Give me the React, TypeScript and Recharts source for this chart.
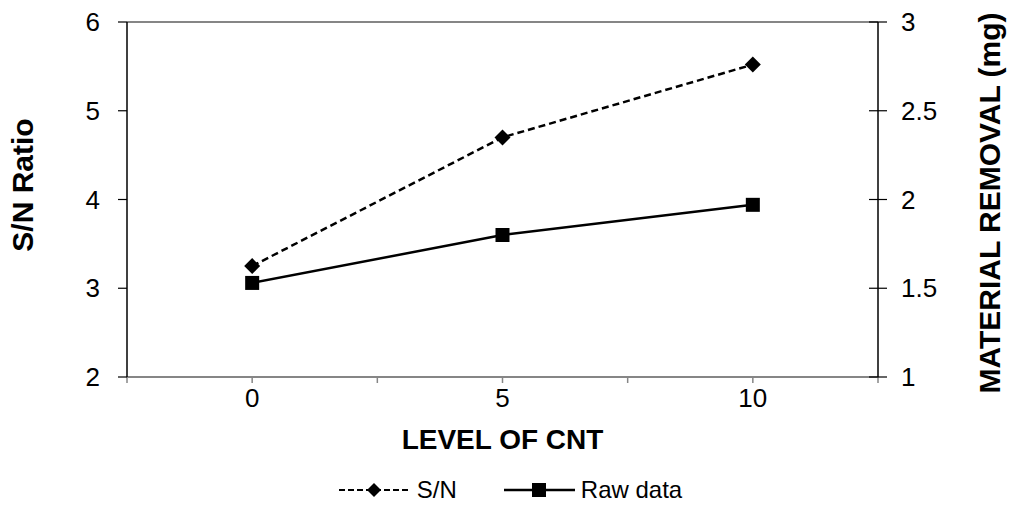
import React from 'react';
import { LineChart, Line, XAxis, YAxis, ReferenceLine, Legend } from 'recharts';

const levels = [0, 5, 10];
const snRatio = [3.25, 4.7, 5.52];
const rawData = [1.53, 1.8, 1.97];
const xTicks = [-2.5, 0, 2.5, 5, 7.5, 10, 12.5];
const leftTicks = [2, 3, 4, 5, 6];
const rightTicks = [1, 1.5, 2, 2.5, 3];

const data = levels.map((level, i) => ({ level, sn: snRatio[i], raw: rawData[i] }));

const font = '"Liberation Sans", Arial, sans-serif';
const gray = '#868686';
const tickFont = 26;

const Diamond = (props: any) => {
  const { cx, cy, index } = props;
  if (cx == null || cy == null) return <g key={`d-${index}`} />;
  return (
    <path
      key={`d-${index}`}
      d={`M${cx},${cy - 8}L${cx + 8},${cy}L${cx},${cy + 8}L${cx - 8},${cy}Z`}
      fill="#000"
    />
  );
};

const Square = (props: any) => {
  const { cx, cy, index } = props;
  if (cx == null || cy == null) return <g key={`s-${index}`} />;
  return <rect key={`s-${index}`} x={cx - 7} y={cy - 7} width={14} height={14} fill="#000" />;
};

// right axis ticks cross the axis line, recharts only draws the outer half
const RightTick = (props: any) => {
  const { x, y, payload } = props;
  const axisX = x - 9 - 14;
  return (
    <g>
      <line x1={axisX - 9} x2={axisX} y1={y} y2={y} stroke="#000" strokeWidth={1.2} />
      <text x={x} y={y} dy="0.355em" textAnchor="start" fontSize={tickFont} fill="#000" fontFamily={font}>
        {payload.value}
      </text>
    </g>
  );
};

const renderLegend = () => (
  <div
    style={{
      display: 'flex',
      justifyContent: 'center',
      alignItems: 'center',
      height: 36,
      fontFamily: font,
      fontSize: 24,
      color: '#000',
      paddingLeft: 10,
    }}
  >
    <span style={{ display: 'flex', alignItems: 'center' }}>
      <svg width={70} height={18}>
        <line x1={0} x2={70} y1={9} y2={9} stroke="#000" strokeWidth={2} strokeDasharray="6 3" />
        <path d="M35,2L42,9L35,16L28,9Z" fill="#000" />
      </svg>
      <span style={{ marginLeft: 8 }}>S/N</span>
    </span>
    <span style={{ display: 'flex', alignItems: 'center', marginLeft: 47 }}>
      <svg width={71} height={18}>
        <line x1={0} x2={71} y1={9} y2={9} stroke="#000" strokeWidth={2.5} />
        <rect x={28} y={2} width={14} height={14} fill="#000" />
      </svg>
      <span style={{ marginLeft: 6 }}>Raw data</span>
    </span>
  </div>
);

export default function App() {
  return (
    <div style={{ position: 'absolute', left: 0, top: 0, background: '#fff' }}>
      <LineChart
        width={1011}
        height={508}
        data={data}
        margin={{ top: 22, right: 0, left: 0, bottom: 0 }}
        style={{ fontFamily: font }}
      >
        <XAxis
          dataKey="level"
          type="number"
          domain={[-2.5, 12.5]}
          ticks={xTicks}
          interval={0}
          height={95}
          tickSize={6}
          tickMargin={6}
          axisLine={{ stroke: gray, strokeWidth: 2 }}
          tickLine={{ stroke: gray, strokeWidth: 1.5 }}
          tick={{ fill: '#000', fontSize: tickFont }}
          tickFormatter={(v: number) => (levels.includes(v) ? String(v) : '')}
          label={{
            value: 'LEVEL OF CNT',
            position: 'insideBottom',
            offset: 23,
            fill: '#000',
            fontSize: 28,
            fontWeight: 'bold',
          }}
        />
        <YAxis
          yAxisId="left"
          orientation="left"
          domain={[2, 6]}
          ticks={leftTicks}
          interval={0}
          width={127}
          tickSize={9}
          tickMargin={18}
          axisLine={{ stroke: '#000', strokeWidth: 1.5 }}
          tickLine={{ stroke: '#000', strokeWidth: 1.2 }}
          tick={{ fill: '#000', fontSize: tickFont }}
          label={{
            content: ({ viewBox }: any) => (
              <text
                x={viewBox.x + 22}
                y={viewBox.y + 163}
                transform={`rotate(-90 ${viewBox.x + 22} ${viewBox.y + 163})`}
                textAnchor="middle"
                dominantBaseline="central"
                fontSize={30}
                fontWeight="bold"
                fill="#000"
                fontFamily={font}
              >
                S/N Ratio
              </text>
            ),
          }}
        />
        <YAxis
          yAxisId="right"
          orientation="right"
          domain={[1, 3]}
          ticks={rightTicks}
          interval={0}
          width={133}
          tickSize={9}
          tickMargin={14}
          axisLine={{ stroke: '#000', strokeWidth: 1.5 }}
          tickLine={{ stroke: '#000', strokeWidth: 1.2 }}
          tick={<RightTick />}
          label={{
            content: ({ viewBox }: any) => (
              <text
                x={viewBox.x + 111}
                y={viewBox.y + 181}
                transform={`rotate(-90 ${viewBox.x + 111} ${viewBox.y + 181})`}
                textAnchor="middle"
                dominantBaseline="central"
                fontSize={30}
                fontWeight="bold"
                fill="#000"
                fontFamily={font}
              >
                MATERIAL REMOVAL (mg)
              </text>
            ),
          }}
        />
        <ReferenceLine yAxisId="left" y={6} stroke={gray} strokeWidth={2} />
        <Legend verticalAlign="bottom" content={renderLegend} />
        <Line
          yAxisId="right"
          dataKey="raw"
          stroke="#000"
          strokeWidth={2.5}
          dot={Square}
          activeDot={false}
          isAnimationActive={false}
        />
        <Line
          yAxisId="left"
          dataKey="sn"
          stroke="#000"
          strokeWidth={2.5}
          strokeDasharray="7 4"
          dot={Diamond}
          activeDot={false}
          isAnimationActive={false}
        />
      </LineChart>
    </div>
  );
}
